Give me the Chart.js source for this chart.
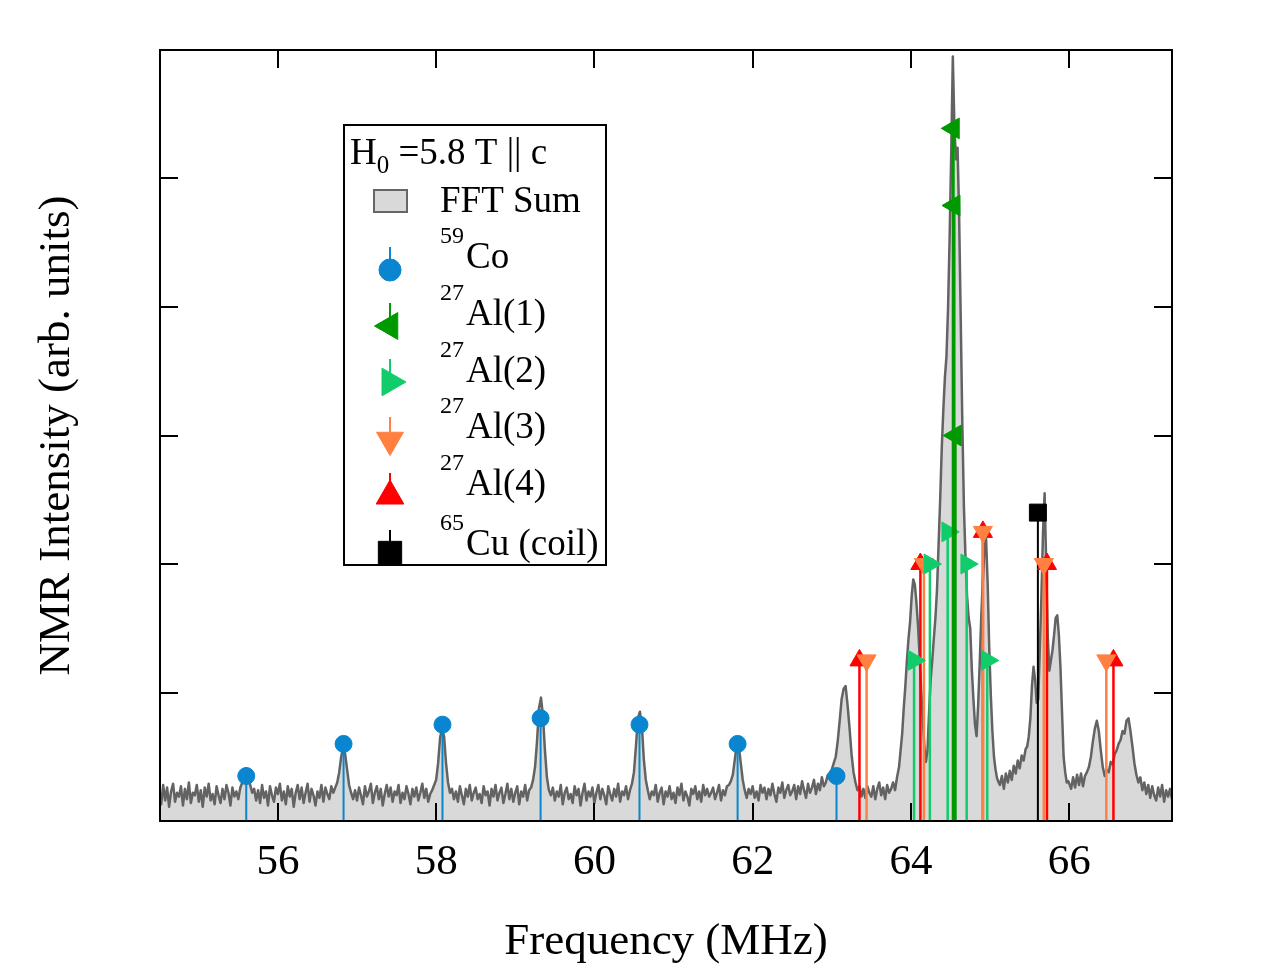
<!DOCTYPE html>
<html>
<head>
<meta charset="utf-8">
<script src="https://cdn.jsdelivr.net/npm/chart.js@4.4.1/dist/chart.umd.min.js"></script>
<style>
  html,body{margin:0;padding:0;background:#fff;}
  #wrap{width:1275px;height:969px;position:relative;}
  canvas{display:block;}
</style>
</head>
<body>
<div id="wrap"><canvas id="c" width="1275" height="969"></canvas></div>
<script>
// ---------- DATA ----------
const xTickValues = [56, 58, 60, 62, 64, 66];
const yTickValues = [1, 2, 3, 4, 5];

// FFT Sum spectrum (frequency in MHz, intensity arb. units)
const specFreq = [
54.500,54.525,54.550,54.575,54.600,54.625,54.650,54.675,54.700,54.725,
54.750,54.775,54.800,54.825,54.850,54.875,54.900,54.925,54.950,54.975,
55.000,55.025,55.050,55.075,55.100,55.125,55.150,55.175,55.200,55.225,
55.250,55.275,55.300,55.325,55.350,55.375,55.400,55.425,55.450,55.475,
55.500,55.525,55.550,55.575,55.600,55.625,55.650,55.675,55.700,55.725,
55.750,55.775,55.800,55.825,55.850,55.875,55.900,55.925,55.950,55.975,
56.000,56.025,56.050,56.075,56.100,56.125,56.150,56.175,56.200,56.225,
56.250,56.275,56.300,56.325,56.350,56.375,56.400,56.425,56.450,56.475,
56.500,56.525,56.550,56.575,56.600,56.625,56.650,56.675,56.700,56.725,
56.750,56.775,56.800,56.825,56.850,56.875,56.900,56.925,56.950,56.975,
57.000,57.025,57.050,57.075,57.100,57.125,57.150,57.175,57.200,57.225,
57.250,57.275,57.300,57.325,57.350,57.375,57.400,57.425,57.450,57.475,
57.500,57.525,57.550,57.575,57.600,57.625,57.650,57.675,57.700,57.725,
57.750,57.775,57.800,57.825,57.850,57.875,57.900,57.925,57.950,57.975,
58.000,58.025,58.050,58.075,58.100,58.125,58.150,58.175,58.200,58.225,
58.250,58.275,58.300,58.325,58.350,58.375,58.400,58.425,58.450,58.475,
58.500,58.525,58.550,58.575,58.600,58.625,58.650,58.675,58.700,58.725,
58.750,58.775,58.800,58.825,58.850,58.875,58.900,58.925,58.950,58.975,
59.000,59.025,59.050,59.075,59.100,59.125,59.150,59.175,59.200,59.225,
59.250,59.275,59.300,59.325,59.350,59.375,59.400,59.425,59.450,59.475,
59.500,59.525,59.550,59.575,59.600,59.625,59.650,59.675,59.700,59.725,
59.750,59.775,59.800,59.825,59.850,59.875,59.900,59.925,59.950,59.975,
60.000,60.025,60.050,60.075,60.100,60.125,60.150,60.175,60.200,60.225,
60.250,60.275,60.300,60.325,60.350,60.375,60.400,60.425,60.450,60.475,
60.500,60.525,60.550,60.575,60.600,60.625,60.650,60.675,60.700,60.725,
60.750,60.775,60.800,60.825,60.850,60.875,60.900,60.925,60.950,60.975,
61.000,61.025,61.050,61.075,61.100,61.125,61.150,61.175,61.200,61.225,
61.250,61.275,61.300,61.325,61.350,61.375,61.400,61.425,61.450,61.475,
61.500,61.525,61.550,61.575,61.600,61.625,61.650,61.675,61.700,61.725,
61.750,61.775,61.800,61.825,61.850,61.875,61.900,61.925,61.950,61.975,
62.000,62.025,62.050,62.075,62.100,62.125,62.150,62.175,62.200,62.225,
62.250,62.275,62.300,62.325,62.350,62.375,62.400,62.425,62.450,62.475,
62.500,62.525,62.550,62.575,62.600,62.625,62.650,62.675,62.700,62.725,
62.750,62.775,62.800,62.825,62.850,62.875,62.900,62.925,62.950,62.975,
63.000,63.025,63.050,63.075,63.100,63.125,63.150,63.175,63.200,63.225,
63.250,63.275,63.300,63.325,63.350,63.375,63.400,63.425,63.450,63.475,
63.500,63.525,63.550,63.575,63.600,63.625,63.650,63.675,63.700,63.725,
63.750,63.775,63.800,63.825,63.850,
63.89,63.91,63.93,63.95,63.97,63.99,64.01,64.03,64.05,64.07,
64.09,64.11,64.13,64.15,64.17,64.19,64.21,64.23,64.25,64.27,
64.29,64.31,64.33,64.35,64.37,64.39,64.41,64.43,64.45,64.47,
64.49,64.51,64.53,64.55,64.57,64.59,64.61,64.63,64.65,64.67,
64.69,64.71,64.73,64.75,64.77,64.79,64.81,64.83,64.85,64.87,
64.89,64.91,64.93,64.95,64.97,64.99,65.01,65.03,65.05,65.07,
65.09,65.11,
65.125,65.150,65.175,65.200,65.225,65.250,65.275,65.300,65.325,65.350,
65.375,65.400,65.425,65.450,
65.47,65.49,65.51,65.53,65.55,65.57,65.59,65.61,65.63,65.65,
65.67,65.69,65.71,65.73,65.75,65.77,65.79,65.81,65.83,65.85,
65.87,65.89,65.91,65.93,65.95,65.97,65.99,
66.025,66.050,66.075,66.100,66.125,66.150,66.175,66.200,66.225,66.250,
66.275,66.300,66.325,66.350,66.375,66.400,66.425,66.450,66.475,66.500,
66.525,66.550,66.575,66.600,66.625,66.650,66.675,66.700,66.725,66.750,
66.775,66.800,66.825,66.850,66.875,66.900,66.925,66.950,66.975,67.000,
67.025,67.050,67.075,67.100,67.125,67.150,67.175,67.200,67.225,67.250,
67.275,67.300
];
const specInt = [
0.21,0.13,0.28,0.16,0.26,0.11,0.23,0.29,0.15,0.22,
0.19,0.27,0.12,0.25,0.17,0.30,0.14,0.22,0.20,0.28,
0.15,0.24,0.11,0.26,0.19,0.29,0.16,0.21,0.13,0.27,
0.20,0.14,0.25,0.17,0.28,0.22,0.12,0.26,0.19,0.23,
0.17,0.26,0.30,0.36,0.41,0.34,0.28,0.22,0.25,0.16,
0.24,0.14,0.28,0.18,0.23,0.12,0.27,0.20,0.15,0.26,
0.21,0.29,0.16,0.23,0.13,0.27,0.19,0.25,0.11,0.22,
0.28,0.17,0.26,0.14,0.22,0.29,0.15,0.25,0.20,0.12,
0.23,0.18,0.28,0.15,0.26,0.21,0.17,0.27,0.22,0.26,
0.30,0.38,0.50,0.57,0.52,0.40,0.28,0.22,0.17,0.24,
0.16,0.26,0.20,0.13,0.27,0.19,0.23,0.29,0.14,0.22,
0.27,0.17,0.25,0.12,0.21,0.28,0.19,0.26,0.15,0.23,
0.20,0.28,0.14,0.22,0.17,0.27,0.21,0.13,0.25,0.19,
0.26,0.16,0.22,0.29,0.18,0.25,0.15,0.21,0.24,0.28,
0.32,0.45,0.65,0.72,0.66,0.45,0.30,0.22,0.25,0.17,
0.23,0.15,0.27,0.20,0.13,0.25,0.19,0.28,0.16,0.22,
0.26,0.17,0.21,0.14,0.27,0.20,0.23,0.12,0.25,0.19,
0.28,0.16,0.22,0.26,0.14,0.21,0.29,0.17,0.25,0.15,
0.22,0.27,0.13,0.23,0.19,0.28,0.16,0.24,0.26,0.32,
0.42,0.62,0.88,0.96,0.82,0.55,0.34,0.24,0.20,0.26,
0.16,0.23,0.19,0.28,0.13,0.22,0.26,0.17,0.21,0.14,
0.27,0.20,0.25,0.12,0.22,0.29,0.16,0.23,0.19,0.26,
0.14,0.22,0.28,0.17,0.25,0.20,0.13,0.27,0.21,0.16,
0.25,0.19,0.29,0.15,0.23,0.20,0.27,0.17,0.24,0.29,
0.38,0.58,0.80,0.85,0.74,0.48,0.32,0.24,0.17,0.23,
0.20,0.28,0.15,0.22,0.26,0.13,0.23,0.19,0.27,0.17,
0.22,0.14,0.26,0.20,0.29,0.16,0.23,0.19,0.12,0.25,
0.21,0.27,0.17,0.23,0.15,0.28,0.20,0.25,0.19,0.22,
0.26,0.17,0.22,0.28,0.16,0.24,0.20,0.27,0.28,0.31,
0.36,0.48,0.60,0.58,0.45,0.32,0.24,0.18,0.25,0.21,
0.27,0.18,0.23,0.16,0.28,0.22,0.26,0.17,0.25,0.20,
0.29,0.21,0.15,0.26,0.22,0.30,0.18,0.24,0.28,0.20,
0.23,0.28,0.17,0.27,0.21,0.31,0.24,0.18,0.29,0.22,
0.26,0.32,0.21,0.29,0.24,0.34,0.27,0.30,0.36,0.33,
0.40,0.45,0.50,0.62,0.78,0.95,1.03,1.05,0.90,0.72,
0.52,0.38,0.30,0.24,0.27,0.19,0.25,0.18,0.27,0.22,
0.19,0.27,0.17,0.25,0.30,0.20,0.26,0.17,0.28,0.22,
0.25,0.30,0.24,0.34,0.42,
0.68,0.88,1.05,1.25,1.42,1.55,1.75,1.88,1.84,1.70,
1.52,1.28,1.02,0.80,0.58,0.46,0.55,0.85,1.10,1.25,
1.42,1.58,1.80,2.15,2.50,2.90,3.20,3.45,3.62,4.00,
4.55,5.20,5.95,5.40,5.15,5.24,4.70,3.90,3.10,2.45,
2.05,1.75,1.58,1.50,1.18,0.95,0.75,0.66,0.90,1.23,
1.60,1.88,2.12,2.20,1.85,1.35,0.98,0.70,0.50,0.40,
0.33,0.30,
0.28,0.35,0.25,0.37,0.30,0.39,0.32,0.43,0.37,0.47,
0.41,0.51,0.47,0.56,
0.58,0.66,0.80,1.05,1.20,1.10,0.92,0.95,1.35,1.75,
2.25,2.55,2.00,1.43,1.17,1.25,1.33,1.45,1.58,1.60,
1.45,1.20,0.85,0.50,0.38,0.30,0.31,
0.25,0.34,0.26,0.36,0.28,0.37,0.27,0.35,0.38,0.42,
0.50,0.62,0.72,0.78,0.70,0.55,0.42,0.35,0.40,0.38,
0.46,0.44,0.52,0.55,0.60,0.63,0.70,0.68,0.78,0.80,
0.70,0.58,0.45,0.36,0.30,0.34,0.24,0.30,0.21,0.28,
0.18,0.27,0.20,0.16,0.26,0.19,0.28,0.15,0.24,0.19,
0.25,0.17
];

// Simulated line positions (stick markers)
const coFreq  = [55.60, 56.83, 58.08, 59.32, 60.57, 61.81, 63.06];
const coInt   = [0.35, 0.60, 0.75, 0.80, 0.75, 0.60, 0.35];
const al1Freq = [64.535, 64.545, 64.56];
const al1Int  = [5.39, 4.79, 3.00];
const al2Freq = [64.04, 64.24, 64.465, 64.705, 64.965];
const al2Int  = [1.25, 2.00, 2.25, 2.00, 1.25];
const al3Freq = [63.44, 64.165, 64.91, 65.68, 66.47];
const al3Int  = [1.25, 2.00, 2.25, 2.00, 1.25];
const al4Freq = [63.35, 64.12, 64.91, 65.72, 66.56];
const al4Int  = [1.25, 2.00, 2.25, 2.00, 1.25];
const cuFreq  = [65.605];
const cuInt   = [2.40];

const isoMass  = ['59', '27', '27', '27', '27', '65'];
const isoNames = ['Co', 'Al(1)', 'Al(2)', 'Al(3)', 'Al(4)', 'Cu (coil)'];
const fieldLabel = ['H', '0', ' =5.8 T || c'];

// ---------- BUILD ----------
const FONT = '"Liberation Serif", "Times New Roman", serif';
const spec = specFreq.map((f, i) => ({x: f, y: specInt[i]}));
function stems(freqs, ints) {
  const d = [];
  freqs.forEach((f, i) => { d.push({x: f, y: 0}, {x: f, y: ints[i]}, {x: f, y: null}); });
  return d;
}
const styles = [
  {color:'#0a85cf', style:'circle',   rot:0,   r:8.5, lw:2,   lr:11},
  {color:'#009900', style:'triangle', rot:-90, r:12,  lw:3,   lr:15.5},
  {color:'#10cc6a', style:'triangle', rot:90,  r:11.5,lw:2.5, lr:16},
  {color:'#ff8040', style:'triangle', rot:180, r:11,  lw:2.5, lr:15.5},
  {color:'#ff0000', style:'triangle', rot:0,   r:11,  lw:2.5, lr:16},
  {color:'#000000', style:'rect',     rot:0,   r:12,  lw:2,   lr:16.5}
];
const stemData = [
  stems(coFreq, coInt), stems(al1Freq, al1Int), stems(al2Freq, al2Int),
  stems(al3Freq, al3Int), stems(al4Freq, al4Int), stems(cuFreq, cuInt)
];
const orders = [6, 1, 2, 3, 4, 5];

const datasets = [{
  label: 'FFT Sum', data: spec, showLine: true, fill: 'origin',
  backgroundColor: '#d9d9d9', borderColor: '#636363', borderWidth: 2.5,
  borderJoinStyle: 'round',
  pointRadius: 0, tension: 0, order: 10
}];
styles.forEach((s, i) => {
  datasets.push({
    label: isoMass[i] + isoNames[i], data: stemData[i], showLine: true, spanGaps: false, fill: false,
    borderColor: s.color, borderWidth: s.lw,
    pointStyle: s.style, pointRotation: s.rot,
    pointBackgroundColor: s.color, pointBorderColor: s.color, pointBorderWidth: 1,
    pointRadius: c => (c.raw && c.raw.y > 0) ? s.r : 0,
    pointHoverRadius: c => (c.raw && c.raw.y > 0) ? s.r : 0,
    order: orders[i]
  });
});

const framePlugin = {
  id: 'frame',
  afterDatasetsDraw(chart) {
    const {ctx, chartArea: {left, right, top, bottom}, scales: {x, y}} = chart;
    ctx.save();
    ctx.strokeStyle = '#000'; ctx.lineWidth = 2;
    ctx.beginPath();
    xTickValues.forEach(v => {
      const px = Math.round(x.getPixelForValue(v));
      ctx.moveTo(px, bottom); ctx.lineTo(px, bottom - 18);
      ctx.moveTo(px, top); ctx.lineTo(px, top + 18);
    });
    yTickValues.forEach(v => {
      const py = Math.round(y.getPixelForValue(v));
      ctx.moveTo(left, py); ctx.lineTo(left + 18, py);
      ctx.moveTo(right, py); ctx.lineTo(right - 18, py);
    });
    ctx.stroke();
    ctx.strokeRect(left, top, right - left, bottom - top);
    ctx.restore();
  }
};

const legendPlugin = {
  id: 'customLegend',
  afterDraw(chart) {
    const ctx = chart.ctx;
    ctx.save();
    ctx.fillStyle = '#fff';
    ctx.strokeStyle = '#000'; ctx.lineWidth = 2;
    ctx.fillRect(344, 125, 262, 440);
    ctx.strokeRect(344, 125, 262, 440);
    ctx.fillStyle = '#000';
    ctx.textBaseline = 'alphabetic';
    ctx.textAlign = 'left';
    ctx.font = '37px ' + FONT;
    ctx.fillText(fieldLabel[0], 350, 164);
    let xx = 350 + ctx.measureText(fieldLabel[0]).width;
    ctx.font = '25px ' + FONT;
    ctx.fillText(fieldLabel[1], xx, 173);
    xx += ctx.measureText(fieldLabel[1]).width;
    ctx.font = '37px ' + FONT;
    ctx.fillText(fieldLabel[2], xx, 164);
    ctx.fillStyle = '#d9d9d9';
    ctx.fillRect(374, 190, 33, 22);
    ctx.strokeStyle = '#666666'; ctx.lineWidth = 2;
    ctx.strokeRect(374, 190, 33, 22);
    ctx.fillStyle = '#000';
    ctx.fillText(datasets[0].label, 440, 212);
    const baselines = [268, 325, 382, 438, 495, 555];
    const icons = [[390, 270], [390, 326], [390, 382], [390, 440], [390, 496], [390, 553]];
    styles.forEach((s, i) => {
      const [ix, iy] = icons[i];
      ctx.strokeStyle = s.color; ctx.lineWidth = 2;
      ctx.beginPath(); ctx.moveTo(ix, iy - 23); ctx.lineTo(ix, iy); ctx.stroke();
      ctx.fillStyle = s.color; ctx.strokeStyle = s.color; ctx.lineWidth = 1;
      Chart.helpers.drawPoint(ctx, {pointStyle: s.style, rotation: s.rot, radius: s.lr, borderWidth: 1}, ix, iy);
      ctx.fillStyle = '#000';
      ctx.font = '24px ' + FONT;
      ctx.fillText(isoMass[i], 440, baselines[i] - 25);
      const w = ctx.measureText(isoMass[i]).width;
      ctx.font = '37px ' + FONT;
      ctx.fillText(isoNames[i], 442 + w, baselines[i]);
    });
    ctx.restore();
  }
};

new Chart(document.getElementById('c'), {
  type: 'scatter',
  data: {datasets},
  options: {
    responsive: false,
    animation: false,
    events: [],
    layout: {padding: {left: 0, right: 103, top: 50, bottom: 0}},
    plugins: {legend: {display: false}, tooltip: {enabled: false}},
    scales: {
      x: {
        type: 'linear', position: 'bottom', min: 54.51, max: 67.3,
        afterBuildTicks: s => { s.ticks = xTickValues.map(v => ({value: v})); },
        afterFit: s => { s.height = 148; },
        grid: {display: false, drawTicks: false},
        border: {display: false},
        ticks: {color: '#000', padding: 16, font: {family: FONT, size: 43}, maxRotation: 0},
        title: {display: true, text: 'Frequency (MHz)', color: '#000',
                font: {family: FONT, size: 45}, padding: {top: 0, bottom: 0}}
      },
      y: {
        type: 'linear', min: 0, max: 6,
        afterFit: s => { s.width = 160; },
        grid: {display: false, drawTicks: false},
        border: {display: false},
        ticks: {display: false},
        title: {display: true, text: 'NMR Intensity (arb. units)', color: '#000',
                font: {family: FONT, size: 45}, padding: {top: 30, bottom: 0}}
      }
    }
  },
  plugins: [framePlugin, legendPlugin]
});
</script>
</body>
</html>
